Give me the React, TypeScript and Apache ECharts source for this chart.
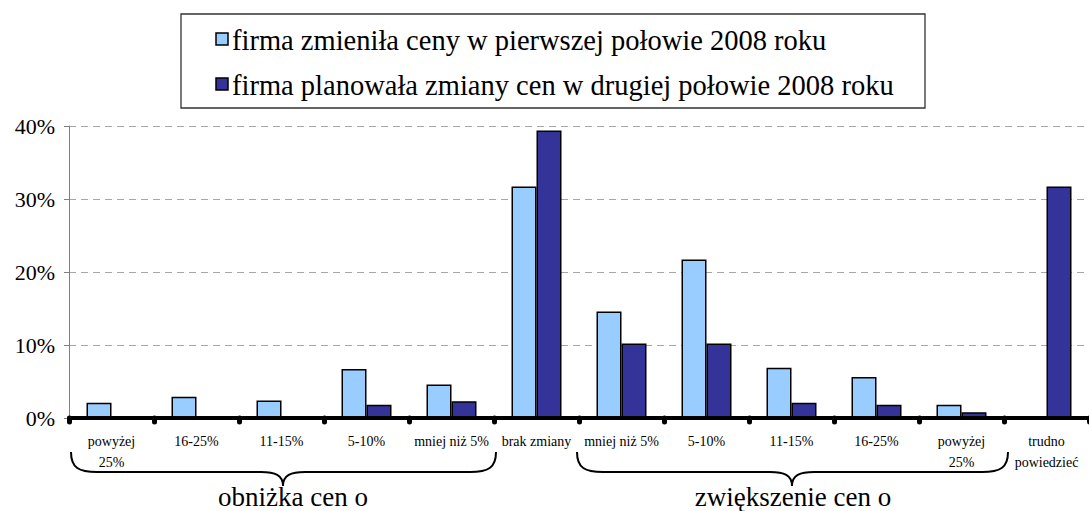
import React, { useEffect, useRef } from "react";
import * as echarts from "echarts";

const categories = [
  "powyżej\n25%",
  "16-25%",
  "11-15%",
  "5-10%",
  "mniej niż 5%",
  "brak zmiany",
  "mniej niż 5%",
  "5-10%",
  "11-15%",
  "16-25%",
  "powyżej\n25%",
  "trudno\npowiedzieć",
];
const firstHalfName = "firma zmieniła ceny w pierwszej połowie 2008 roku";
const secondHalfName = "firma planowała zmiany cen w drugiej połowie 2008 roku";
const firstHalf = [2.1, 2.9, 2.4, 6.7, 4.6, 31.7, 14.6, 21.7, 6.9, 5.6, 1.8, 0];
const secondHalf = [0, 0, 0, 1.8, 2.3, 39.4, 10.2, 10.2, 2.1, 1.8, 0.8, 31.7];
const groupLabels = ["obniżka cen o", "zwiększenie cen o"];
const yTicks = { min: 0, max: 40, interval: 10 };

const LIGHT = "#99CCFF";
const DARK = "#333399";
const FONT = "Liberation Serif";

function bracePath(x1: number, x2: number, xt: number, y0: number, y1: number, y2: number) {
  const r = 26;
  return (
    `M${x1} ${y0} C${x1} ${y1 - 4} ${x1 + 8} ${y1} ${x1 + r} ${y1} ` +
    `L${xt - 22} ${y1} C${xt - 8} ${y1} ${xt} ${y1 + 3} ${xt} ${y2} ` +
    `C${xt} ${y1 + 3} ${xt + 8} ${y1} ${xt + 22} ${y1} ` +
    `L${x2 - r} ${y1} C${x2 - 8} ${y1} ${x2} ${y1 - 4} ${x2} ${y0}`
  );
}

echarts.graphic.registerShape(
  "braceLeft",
  echarts.graphic.extendPath(bracePath(71, 496, 283, 452, 472, 486), {})
);
echarts.graphic.registerShape(
  "braceRight",
  echarts.graphic.extendPath(bracePath(577, 1008, 792, 452, 472, 486), {})
);

export default function App() {
  const ref = useRef<HTMLDivElement>(null);

  useEffect(() => {
    if (!ref.current) return;
    const chart = echarts.init(ref.current, null, { renderer: "svg" });
    chart.setOption({
      animation: false,
      backgroundColor: "#ffffff",
      textStyle: { fontFamily: FONT },
      grid: { left: 69, right: -9, top: 126, bottom: 93 },
      xAxis: {
        type: "category",
        data: categories,
        z: 5,
        axisLine: { lineStyle: { color: "#000", width: 4 } },
        axisTick: {
          show: true,
          length: 4,
          lineStyle: { color: "#000", width: 5, cap: "round" },
        },
        axisLabel: {
          interval: 0,
          margin: 13,
          color: "#000",
          fontFamily: FONT,
          fontSize: 14,
          lineHeight: 21,
        },
      },
      yAxis: {
        type: "value",
        min: yTicks.min,
        max: yTicks.max,
        interval: yTicks.interval,
        axisLine: { show: true, lineStyle: { color: "#808080", width: 1 } },
        axisTick: { show: true, length: 5, lineStyle: { color: "#808080" } },
        axisLabel: {
          formatter: "{value}%",
          color: "#000",
          fontFamily: FONT,
          fontSize: 22,
          margin: 14,
        },
        splitLine: {
          show: true,
          lineStyle: { color: "#A6A6A6", type: [7, 5], width: 1 },
        },
      },
      series: [
        {
          name: firstHalfName,
          type: "bar",
          data: firstHalf,
          barWidth: 25,
          barGap: "0%",
          itemStyle: { color: LIGHT, borderColor: "#000", borderWidth: 1.5 },
        },
        {
          name: secondHalfName,
          type: "bar",
          data: secondHalf,
          barWidth: 25,
          barGap: "0%",
          itemStyle: { color: DARK, borderColor: "#000", borderWidth: 1.5 },
        },
      ],
      graphic: [
        {
          type: "rect",
          shape: { x: 181, y: 14, width: 744, height: 94 },
          style: { fill: "none", stroke: "#333", lineWidth: 1.3 },
        },
        {
          type: "rect",
          shape: { x: 216, y: 33, width: 12, height: 12 },
          style: { fill: LIGHT, stroke: "#000", lineWidth: 1.5 },
        },
        {
          type: "rect",
          shape: { x: 216, y: 78, width: 12, height: 12 },
          style: { fill: DARK, stroke: "#000", lineWidth: 1.5 },
        },
        {
          type: "text",
          x: 232,
          y: 40,
          style: {
            text: firstHalfName,
            fontFamily: FONT,
            fontSize: 28.5,
            fill: "#000",
            verticalAlign: "middle",
          },
        },
        {
          type: "text",
          x: 232,
          y: 85,
          style: {
            text: secondHalfName,
            fontFamily: FONT,
            fontSize: 28.5,
            fill: "#000",
            verticalAlign: "middle",
          },
        },
        {
          type: "braceLeft",
          x: 0,
          y: 0,
          style: { fill: "none", stroke: "#000", lineWidth: 2 },
        },
        {
          type: "braceRight",
          x: 0,
          y: 0,
          style: { fill: "none", stroke: "#000", lineWidth: 2 },
        },
        {
          type: "text",
          x: 293,
          y: 497,
          style: {
            text: groupLabels[0],
            fontFamily: FONT,
            fontSize: 27,
            fill: "#000",
            align: "center",
            verticalAlign: "middle",
          },
        },
        {
          type: "text",
          x: 793,
          y: 497,
          style: {
            text: groupLabels[1],
            fontFamily: FONT,
            fontSize: 27,
            fill: "#000",
            align: "center",
            verticalAlign: "middle",
          },
        },
      ],
    });
    return () => chart.dispose();
  }, []);

  return (
    <div
      ref={ref}
      style={{ position: "fixed", left: 0, top: 0, width: 1089, height: 511 }}
    />
  );
}
